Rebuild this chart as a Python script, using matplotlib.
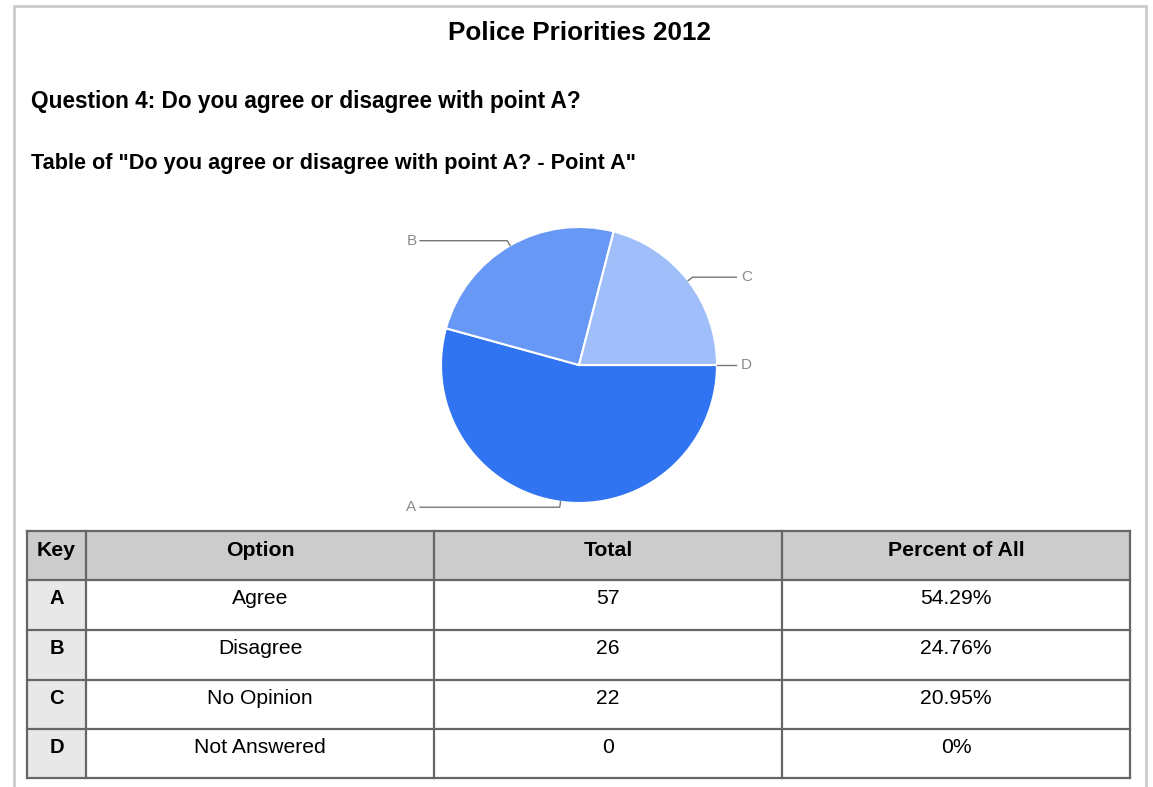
import numpy as np
import matplotlib
matplotlib.use("Agg")
import matplotlib.pyplot as plt
from matplotlib.patches import Rectangle

# ---- data ----
keys = ['A', 'B', 'C', 'D']
options = ['Agree', 'Disagree', 'No Opinion', 'Not Answered']
totals = [57, 26, 22, 0]
percents = ['54.29%', '24.76%', '20.95%', '0%']
headers = ['Key', 'Option', 'Total', 'Percent of All']
title = 'Police Priorities 2012'
question = 'Question 4: Do you agree or disagree with point A?'
table_title = 'Table of "Do you agree or disagree with point A? - Point A"'

W, H = 1153, 787
plt.rcParams['font.family'] = ['Liberation Sans', 'DejaVu Sans']
fig = plt.figure(figsize=(W / 100, H / 100), dpi=100)
fig.patch.set_facecolor('white')

ax0 = fig.add_axes([0, 0, 1, 1])
ax0.set_xlim(0, W)
ax0.set_ylim(H, 0)
ax0.axis('off')
renderer = fig.canvas.get_renderer()


def measure(s, weight='normal'):
    t = ax0.text(0, 0, s, fontsize=10, fontweight=weight)
    w = t.get_window_extent(renderer).width
    t.remove()
    return w


def fit_size(s, target_w, weight='normal'):
    return 10 * target_w / measure(s, weight)

# outer frame
ax0.plot([14, 14, 1146, 1146], [H + 5, 6, 6, H + 5], color='#cccccc', lw=2, solid_joinstyle='miter')

# titles
ax0.text(579.5, 40, title, ha='center', va='baseline', fontweight='bold',
         fontsize=fit_size(title, 263, 'bold'))
ax0.text(31, 108, question, ha='left', va='baseline', fontweight='bold',
         fontsize=fit_size(question, 551, 'bold'))
ax0.text(31, 169, table_title, ha='left', va='baseline', fontweight='bold',
         fontsize=fit_size(table_title, 605, 'bold'))

# ---- pie ----
cx, cy, R = 579, 365, 138
axp = fig.add_axes([(cx - R) / W, (H - cy - R) / H, 2 * R / W, 2 * R / H])
colors = ['#3174f2', '#6898f5', '#9fbefa', '#c6d8fb']
wedges, _ = axp.pie(totals, startangle=0, counterclock=False, colors=colors,
                    wedgeprops=dict(edgecolor='white', linewidth=1.5))
axp.set_xlim(-1, 1)
axp.set_ylim(-1, 1)
axp.set_aspect('equal')
axp.axis('off')
for w, k in zip(wedges, keys):
    mid = np.deg2rad((w.theta1 + w.theta2) / 2)
    c, s = np.cos(mid), np.sin(mid)
    side = 1 if c >= -1e-9 else -1
    ex, ey = c, s
    bx, by = 1.04 * c, 1.04 * s
    hx = side * (1.14 if side > 0 else 1.152)
    axp.plot([ex, bx, hx], [ey, by, by], color='#777777', lw=1.0, clip_on=False)
    axp.text(side * 1.215, by, k, ha='center', va='center', fontsize=11,
             color='#8a8a8a', clip_on=False)

# ---- table ----
xs = [27, 86, 434, 782, 1130]
ys = [531, 580, 630, 680, 729, 778]
ax0.add_patch(Rectangle((xs[0], ys[0]), xs[-1] - xs[0], ys[1] - ys[0], facecolor='#cccccc', edgecolor='none'))
ax0.add_patch(Rectangle((xs[0], ys[1]), xs[1] - xs[0], ys[-1] - ys[1], facecolor='#e8e8e8', edgecolor='none'))
for x in xs:
    ax0.plot([x, x], [ys[0], ys[-1]], color='#666666', lw=1.6, solid_capstyle='projecting')
for y in ys:
    ax0.plot([xs[0], xs[-1]], [y, y], color='#666666', lw=1.6, solid_capstyle='projecting')

cx_cols = [(xs[i] + xs[i + 1]) / 2 for i in range(4)]
hs = fit_size('Percent of All', 136, 'bold')
bs = fit_size('Not Answered', 132)

for i, h in enumerate(headers):
    ax0.text(cx_cols[i], ys[0] + 25, h, ha='center', va='baseline', fontsize=hs, fontweight='bold')
for r in range(len(keys)):
    yb = ys[r + 1] + 24
    ax0.text(cx_cols[0], yb, keys[r], ha='center', va='baseline', fontsize=hs * 0.95, fontweight='bold')
    ax0.text(cx_cols[1], yb, options[r], ha='center', va='baseline', fontsize=bs)
    ax0.text(cx_cols[2], yb, str(totals[r]), ha='center', va='baseline', fontsize=bs)
    ax0.text(cx_cols[3], yb, percents[r], ha='center', va='baseline', fontsize=bs)

fig.savefig('out.png', dpi=100, facecolor='white')
